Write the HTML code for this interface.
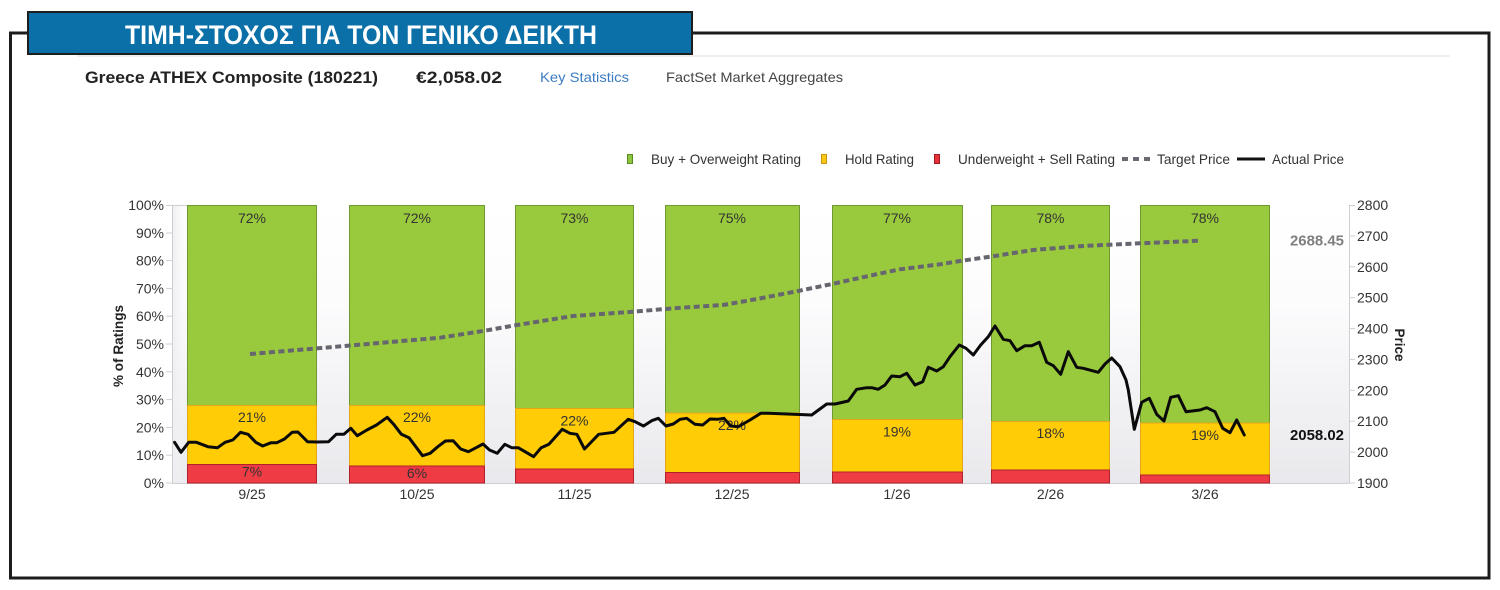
<!DOCTYPE html>
<html>
<head>
<meta charset="utf-8">
<style>
  html,body{margin:0;padding:0;background:#fff;}
  svg{display:block;}
  text{font-family:"Liberation Sans", Arial, sans-serif;}
</style>
</head>
<body>
<svg width="1500" height="590" viewBox="0 0 1500 590" xmlns="http://www.w3.org/2000/svg">
  <defs>
    <linearGradient id="bg" x1="0" y1="0" x2="0" y2="1">
      <stop offset="0" stop-color="#ffffff"/>
      <stop offset="0.35" stop-color="#fcfcfd"/>
      <stop offset="1" stop-color="#e9e9ed"/>
    </linearGradient>
    <linearGradient id="lg" x1="0" y1="0" x2="1" y2="0">
      <stop offset="0" stop-color="#eeeef1"/>
      <stop offset="1" stop-color="#f6f6f8" stop-opacity="0"/>
    </linearGradient>
  </defs>
  <rect x="0" y="0" width="1500" height="590" fill="#fff"/>

  <!-- outer frame -->
  <path d="M28,33 L10.5,33 L10.5,578 L1489,578 L1489,33 L692,33" fill="none" stroke="#1c1c1c" stroke-width="3"/>

  <!-- banner -->
  <rect x="28" y="12" width="664" height="42" fill="#0b6fa8" stroke="#1e1e1e" stroke-width="2"/>
  <text x="361" y="44" text-anchor="middle" font-size="27" font-weight="bold" fill="#ffffff" textLength="472" lengthAdjust="spacingAndGlyphs">ΤΙΜΗ-ΣΤΟΧΟΣ ΓΙΑ ΤΟΝ ΓΕΝΙΚΟ ΔΕΙΚΤΗ</text>

  <!-- header separator -->
  <line x1="77" y1="56" x2="1450" y2="56" stroke="#efefef" stroke-width="2"/>

  <!-- header row -->
  <text x="85" y="83" font-size="17" font-weight="bold" fill="#222" textLength="293" lengthAdjust="spacingAndGlyphs">Greece ATHEX Composite (180221)</text>
  <text x="416" y="83" font-size="17" font-weight="bold" fill="#222" textLength="86" lengthAdjust="spacingAndGlyphs">€2,058.02</text>
  <text x="540" y="82" font-size="14" fill="#3b7cc2" textLength="89" lengthAdjust="spacingAndGlyphs">Key Statistics</text>
  <text x="666" y="82" font-size="14" fill="#444" textLength="177" lengthAdjust="spacingAndGlyphs">FactSet Market Aggregates</text>

  <!-- legend -->
  <rect x="627.5" y="154.5" width="5" height="9" fill="#8cc63f" stroke="#5b8a22" stroke-width="1"/>
  <text x="651" y="164" font-size="14" fill="#333" textLength="150" lengthAdjust="spacingAndGlyphs">Buy + Overweight Rating</text>
  <rect x="821.5" y="154.5" width="5" height="9" fill="#fcc816" stroke="#c99510" stroke-width="1"/>
  <text x="845" y="164" font-size="14" fill="#333" textLength="69" lengthAdjust="spacingAndGlyphs">Hold Rating</text>
  <rect x="934.5" y="154.5" width="5" height="9" fill="#e8313b" stroke="#a01c24" stroke-width="1"/>
  <text x="958" y="164" font-size="14" fill="#333" textLength="157" lengthAdjust="spacingAndGlyphs">Underweight + Sell Rating</text>
  <line x1="1122" y1="159" x2="1150" y2="159" stroke="#6a6a72" stroke-width="4" stroke-dasharray="6 5"/>
  <text x="1157" y="164" font-size="14" fill="#333" textLength="73" lengthAdjust="spacingAndGlyphs">Target Price</text>
  <line x1="1237" y1="159" x2="1265" y2="159" stroke="#111" stroke-width="3"/>
  <text x="1272" y="164" font-size="14" fill="#333" textLength="72" lengthAdjust="spacingAndGlyphs">Actual Price</text>

  <!-- plot background -->
  <rect x="172" y="205" width="1177" height="278" fill="url(#bg)"/>
  <rect x="172" y="205" width="15" height="278" fill="url(#lg)"/>

  <!-- axes -->
  <line x1="172.5" y1="205" x2="172.5" y2="483" stroke="#cfcfd3" stroke-width="1"/>
  <line x1="1349.5" y1="205" x2="1349.5" y2="483" stroke="#cfcfd3" stroke-width="1"/>
  <line x1="172" y1="483.5" x2="1349" y2="483.5" stroke="#cfcfd3" stroke-width="1"/>
  <g stroke="#cfcfd3" stroke-width="1">
    <line x1="166" y1="205.5" x2="187" y2="205.5"/>
    <line x1="166" y1="233" x2="172" y2="233"/>
    <line x1="166" y1="260.6" x2="172" y2="260.6"/>
    <line x1="166" y1="288.4" x2="172" y2="288.4"/>
    <line x1="166" y1="316.2" x2="172" y2="316.2"/>
    <line x1="166" y1="344" x2="172" y2="344"/>
    <line x1="166" y1="371.8" x2="172" y2="371.8"/>
    <line x1="166" y1="399.6" x2="172" y2="399.6"/>
    <line x1="166" y1="427.4" x2="172" y2="427.4"/>
    <line x1="166" y1="455.2" x2="172" y2="455.2"/>
    <line x1="166" y1="483" x2="172" y2="483"/>
    <line x1="1349" y1="205.5" x2="1355" y2="205.5"/>
    <line x1="1349" y1="235.9" x2="1355" y2="235.9"/>
    <line x1="1349" y1="266.8" x2="1355" y2="266.8"/>
    <line x1="1349" y1="297.7" x2="1355" y2="297.7"/>
    <line x1="1349" y1="328.6" x2="1355" y2="328.6"/>
    <line x1="1349" y1="359.4" x2="1355" y2="359.4"/>
    <line x1="1349" y1="390.3" x2="1355" y2="390.3"/>
    <line x1="1349" y1="421.2" x2="1355" y2="421.2"/>
    <line x1="1349" y1="452.1" x2="1355" y2="452.1"/>
    <line x1="1349" y1="483" x2="1355" y2="483"/>
  </g>

  <!-- left axis labels -->
  <g font-size="14" fill="#333" text-anchor="end">
    <text x="164" y="210">100%</text>
    <text x="164" y="238">90%</text>
    <text x="164" y="265.6">80%</text>
    <text x="164" y="293.4">70%</text>
    <text x="164" y="321.2">60%</text>
    <text x="164" y="349">50%</text>
    <text x="164" y="376.8">40%</text>
    <text x="164" y="404.6">30%</text>
    <text x="164" y="432.4">20%</text>
    <text x="164" y="460.2">10%</text>
    <text x="164" y="488">0%</text>
  </g>
  <text transform="translate(123,346) rotate(-90)" text-anchor="middle" font-size="14" font-weight="bold" fill="#222" textLength="82" lengthAdjust="spacingAndGlyphs">% of Ratings</text>

  <!-- right axis labels -->
  <g font-size="14" fill="#333">
    <text x="1357" y="210">2800</text>
    <text x="1357" y="240.9">2700</text>
    <text x="1357" y="271.8">2600</text>
    <text x="1357" y="302.7">2500</text>
    <text x="1357" y="333.6">2400</text>
    <text x="1357" y="364.4">2300</text>
    <text x="1357" y="395.3">2200</text>
    <text x="1357" y="426.2">2100</text>
    <text x="1357" y="457.1">2000</text>
    <text x="1357" y="488">1900</text>
  </g>
  <text transform="translate(1395,345) rotate(90)" text-anchor="middle" font-size="14" font-weight="bold" fill="#222" textLength="33" lengthAdjust="spacingAndGlyphs">Price</text>

  <!-- bars -->
  <g stroke-width="1">
    <!-- bar 1 -->
    <rect x="187.5" y="205.5" width="129" height="200" fill="#99c93c" stroke="#6f9a32"/>
    <rect x="187.5" y="405.5" width="129" height="59" fill="#ffcc05" stroke="#e3a51a"/>
    <rect x="187.5" y="464.5" width="129" height="18.5" fill="#ef3b44" stroke="#b0222b"/>
    <!-- bar 2 -->
    <rect x="349.5" y="205.5" width="135" height="200" fill="#99c93c" stroke="#6f9a32"/>
    <rect x="349.5" y="405.5" width="135" height="60.5" fill="#ffcc05" stroke="#e3a51a"/>
    <rect x="349.5" y="466" width="135" height="17" fill="#ef3b44" stroke="#b0222b"/>
    <!-- bar 3 -->
    <rect x="515.5" y="205.5" width="118" height="203" fill="#99c93c" stroke="#6f9a32"/>
    <rect x="515.5" y="408.5" width="118" height="60.5" fill="#ffcc05" stroke="#e3a51a"/>
    <rect x="515.5" y="469" width="118" height="14" fill="#ef3b44" stroke="#b0222b"/>
    <!-- bar 4 -->
    <rect x="665.5" y="205.5" width="134" height="207.5" fill="#99c93c" stroke="#6f9a32"/>
    <rect x="665.5" y="413" width="134" height="59.5" fill="#ffcc05" stroke="#e3a51a"/>
    <rect x="665.5" y="472.5" width="134" height="10.5" fill="#ef3b44" stroke="#b0222b"/>
    <!-- bar 5 -->
    <rect x="832.5" y="205.5" width="130" height="214" fill="#99c93c" stroke="#6f9a32"/>
    <rect x="832.5" y="419.5" width="130" height="52.5" fill="#ffcc05" stroke="#e3a51a"/>
    <rect x="832.5" y="472" width="130" height="11" fill="#ef3b44" stroke="#b0222b"/>
    <!-- bar 6 -->
    <rect x="991.5" y="205.5" width="118" height="216" fill="#99c93c" stroke="#6f9a32"/>
    <rect x="991.5" y="421.5" width="118" height="48.5" fill="#ffcc05" stroke="#e3a51a"/>
    <rect x="991.5" y="470" width="118" height="13" fill="#ef3b44" stroke="#b0222b"/>
    <!-- bar 7 -->
    <rect x="1140.5" y="205.5" width="129" height="217.5" fill="#99c93c" stroke="#6f9a32"/>
    <rect x="1140.5" y="423" width="129" height="52" fill="#ffcc05" stroke="#e3a51a"/>
    <rect x="1140.5" y="475" width="129" height="8" fill="#ef3b44" stroke="#b0222b"/>
  </g>

  <!-- bar labels -->
  <g font-size="14" fill="#333" text-anchor="middle">
    <text x="252" y="223">72%</text>
    <text x="417" y="223">72%</text>
    <text x="574.5" y="223">73%</text>
    <text x="732" y="223">75%</text>
    <text x="897" y="223">77%</text>
    <text x="1050.5" y="223">78%</text>
    <text x="1205" y="223">78%</text>

    <text x="252" y="422">21%</text>
    <text x="417" y="422">22%</text>
    <text x="574.5" y="425.5">22%</text>
    <text x="732" y="430">22%</text>
    <text x="897" y="436.5">19%</text>
    <text x="1050.5" y="438">18%</text>
    <text x="1205" y="440">19%</text>

    <text x="252" y="476.5">7%</text>
    <text x="417" y="478">6%</text>
  </g>

  <!-- x axis labels -->
  <g font-size="14" fill="#333" text-anchor="middle">
    <text x="252" y="499">9/25</text>
    <text x="417" y="499">10/25</text>
    <text x="574.5" y="499">11/25</text>
    <text x="732" y="499">12/25</text>
    <text x="897" y="499">1/26</text>
    <text x="1050.5" y="499">2/26</text>
    <text x="1205" y="499">3/26</text>
  </g>

  <!-- target price (dashed) -->
  <polyline fill="none" stroke="#66666f" stroke-width="4" stroke-dasharray="6 3.5"
    points="250,354 333,347 440,337.7 483,331 517,325 573,316 633,311.7 673,308.3 723,305 757,299 798,291 832,284 873,275 900,269.3 940,264.3 960,261 990,256.7 1033,250 1083,246 1140,243.3 1200,240.7"/>

  <!-- actual price -->
  <polyline fill="none" stroke="#0a0a0a" stroke-width="3" stroke-linejoin="round" stroke-linecap="round"
    points="174.6,442.3 181,452.3 188.7,442.3 196.4,442.3 207.9,446.7 217.5,447.7 225.1,442.3 232.8,440 240.5,432.3 248.1,434.3 255.8,442.3 262.7,446 271.1,442.7 276.9,442.7 284.5,439 292.2,432.3 297.9,432 307.5,441.7 317,442 328.6,441.7 336.2,434.3 343.9,434.3 350.8,428.3 357.3,435.7 366.9,430 376.5,425 387.2,417.3 393.7,424.3 401.4,434.3 409,437.7 422.5,455.7 430.1,453.3 437.8,446.7 445.4,441 453.1,440.7 460.7,449 468.4,451.7 476.1,447.7 483,444 489.5,450 497.2,453.3 504.8,444.3 511.7,447.7 518.2,447.7 533.6,456.7 541.2,447.7 548.9,444.3 562.3,429.3 569.9,433.3 576.9,434.3 584.5,449 598.7,434.3 614,432.3 628.2,419.3 635.1,421.7 643.5,426 651.7,420.7 658.3,418.3 666,426 673.3,424 680,419.3 686.7,418.3 695,424.3 702.7,425 710,419 717.3,419.3 724,418.3 730.7,426 738.3,426.7 750,420 760.7,413.3 768.3,413.3 811.7,415 826.7,404 835,404 848.3,401 856.7,389.3 866.7,387.7 871.7,387.7 878.3,389.3 885,385 891.7,376 900,376.7 906.7,373.3 915,385 922.7,381.7 928.3,367.3 936.7,371 943.3,366.7 950,356.7 959.3,345 966,348.3 973.3,355 980.7,345 988.3,336.7 995,326 1003.3,339.3 1010,340.7 1016.7,350.7 1025,345.7 1031.7,345.7 1039.3,342.3 1046.7,362.3 1053.3,365.7 1060.7,374.3 1068.3,351.7 1076.7,367.3 1083.3,368.3 1098.3,372.3 1105,364 1111.7,358 1120,366.7 1126,380 1128.3,390 1134.3,429.3 1141.7,402.3 1149.3,398.3 1156.7,414.3 1164,421 1170.7,397.3 1178.3,395.7 1186,411.7 1200,410 1206.7,407.7 1215,411.7 1222.7,428.3 1230,432.7 1236.7,420 1244.3,435"/>

  <!-- value labels -->
  <text x="1344" y="245.5" text-anchor="end" font-size="15" font-weight="bold" fill="#7f7f7f" textLength="54" lengthAdjust="spacingAndGlyphs">2688.45</text>
  <text x="1344" y="440" text-anchor="end" font-size="15" font-weight="bold" fill="#111" textLength="54" lengthAdjust="spacingAndGlyphs">2058.02</text>
</svg>
</body>
</html>
